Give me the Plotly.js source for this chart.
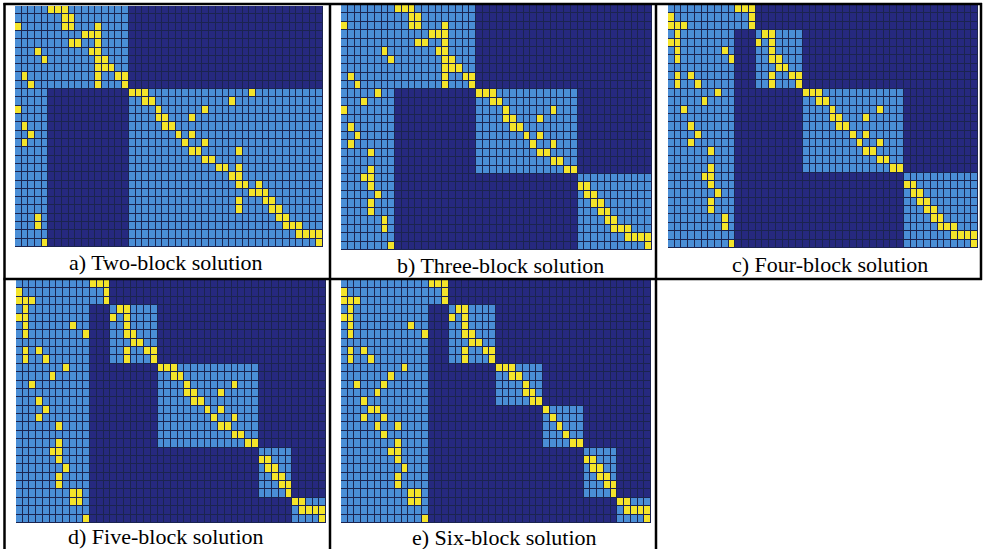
<!DOCTYPE html>
<html><head><meta charset="utf-8">
<script src="https://cdn.plot.ly/plotly-3.0.1.min.js"></script>
<style>html,body{margin:0;padding:0;background:#fff;}#chart{width:983px;height:549px;}</style>
</head><body><div id="chart"></div>
<script>
const N_ROWS = 29, N_COLS = 46;
const panelLabels = ["a) Two-block solution","b) Three-block solution","c) Four-block solution","d) Five-block solution","e) Six-block solution"];

// shared (overlap) columns on the left, then block boundaries (rows / cols)
const stripA = 5,  rowBreaksA = [0,10,29], colBreaksA = [5,17,46];
const stripB = 8,  rowBreaksB = [0,10,20,29], colBreaksB = [8,20,35,46];
const stripC = 10, rowBreaksC = [0,3,10,20,29], colBreaksC = [10,13,20,35,46];
const stripD = 11, rowBreaksD = [0,3,10,20,26,29], colBreaksD = [11,14,21,36,41,46];
const stripE = 13, rowBreaksE = [0,3,10,15,20,26,29], colBreaksE = [13,16,23,30,36,41,46];

// yellow (non-zero) cells: column indices for each row
const yellowA = [[5,6,7],[7,8],[0,7,8,12],[10,11,12],[8,9,12],[3,11,12],[4,12,13],[12,13,14],[1,12,15,16],[2,12,16],
 [17,18,19,35],[19,20,32],[0,21,28],[21,22,26],[1,22,23],[2,24,26],[1,25,28],[26,27,33],[28,29],[30,31,33],
 [32,33],[33,34,36],[35,36,37],[33,37,38],[33,38,39],[3,39,40],[3,40,41,42],[42,43,44,45],[4,45]];
const yellowB = [[8,9,10],[10,11],[0,10,11,15],[13,14,15],[11,12,15],[6,14,15],[7,15,16],[15,16,17],[1,15,18,19],[2,15,19],
 [5,20,21,22],[3,22,23],[0,24,31],[24,25,29],[1,25,26],[2,27,29],[1,28,31],[4,29,30],[31,32],[4,33,34],
 [3,4],[4,35,36],[5,36,37],[4,37,38],[4,38,39],[6,39,40],[6,40,41,42],[42,43,44,45],[7,45]];
const yellowC = [[10,11,12],[0,12],[0,1,2,12],[1,14,15],[0,1,13,15],[1,8,15],[1,9,15,16],[16,17],[1,3,15,18,19],[1,4,15,19],
 [7,20,21,22],[5,22,23],[2,24,31],[24,25,29],[3,25,26],[4,27,29],[3,28,31],[6,29,30],[31,32],[6,33,34],
 [5,6],[6,35,36],[7,36,37],[6,37,38],[6,38,39],[8,39,40],[8,40,41,42],[42,43,44,45],[9,45]];
const yellowD = [[11,12,13],[0,13],[0,1,2,13],[1,15,16],[0,1,14,16],[1,8,16],[1,10,16,17],[17,18],[1,3,16,19,20],[1,4,16,20],
 [7,21,22,23],[5,23,24],[2,25,32],[25,26,30],[3,26,27],[4,28,30],[3,29,32],[6,30,31],[32,33],[6,34,35],
 [5,6],[6,36,37],[7,37,38],[6,38,39],[6,39,40],[8,9,40],[8,9,41,42],[42,43,44,45],[10,45]];
const yellowE = [[13,14,15],[0,15],[0,1,2,15],[1,17,18],[0,1,16,18],[1,10,18],[1,12,18,19],[19,20],[1,3,18,21,22],[1,4,18,22],
 [9,23,24,25],[7,25,26],[2,6,27],[5,27,28],[3,28,29],[4,5,30],[3,6,31],[5,8,32],[6,33],[8,34,35],
 [7,8],[8,36,37],[9,37,38],[8,38,39],[8,39,40],[10,11,40],[10,11,41,42],[42,43,44,45],[12,45]];

function blockOf(i, breaks) {
  for (let k = 0; k < breaks.length - 1; k++) if (i >= breaks[k] && i < breaks[k+1]) return k;
  return -1;
}
function buildMatrix(strip, rb, cb, yellow) {
  const z = [];
  for (let r = 0; r < N_ROWS; r++) {
    const row = [];
    const br = blockOf(r, rb);
    for (let c = 0; c < N_COLS; c++) {
      let v = 0;
      if (c < strip) v = 1;
      else if (blockOf(c, cb) === br) v = 1;
      row.push(v);
    }
    yellow[r].forEach(c => { row[c] = 2; });
    z.push(row);
  }
  return z;
}

const mats = [
  buildMatrix(stripA, rowBreaksA, colBreaksA, yellowA),
  buildMatrix(stripB, rowBreaksB, colBreaksB, yellowB),
  buildMatrix(stripC, rowBreaksC, colBreaksC, yellowC),
  buildMatrix(stripD, rowBreaksD, colBreaksD, yellowD),
  buildMatrix(stripE, rowBreaksE, colBreaksE, yellowE)
];

const W = 983, H = 549;
// pixel boxes of the five images [x0, x1, y0, y1]
const boxes = [[15,323,6,247],[341,652,5,250],[668,978,5,248],[16,326,280,523],[341,651,280,523]];
const labelPos = [[166,262],[500,265],[830,264],[166,536],[505,537]];

const DARK = '#26297f', LIGHT = '#4a8ed6', YEL = '#f4e42a';
const cs = [[0,DARK],[0.333,DARK],[0.333,LIGHT],[0.667,LIGHT],[0.667,YEL],[1,YEL]];
const xs = Array.from({length:N_COLS},(_,i)=>i);
const ys = Array.from({length:N_ROWS},(_,i)=>i);

const data = [];
const layout = {
  width: W, height: H, margin:{l:0,r:0,t:0,b:0},
  paper_bgcolor:'#ffffff', plot_bgcolor:'#1b2450', showlegend:false,
  shapes: [], annotations: []
};
mats.forEach((z, i) => {
  const n = i === 0 ? '' : String(i+1);
  data.push({type:'heatmap', z:z, x:xs, y:ys, xaxis:'x'+n, yaxis:'y'+n,
    colorscale:cs, zmin:0, zmax:2, showscale:false, xgap:1, ygap:1, hoverinfo:'skip'});
  const b = boxes[i];
  const ax = {domain:[b[0]/W, b[1]/W], range:[-0.5, N_COLS-0.5], visible:false, fixedrange:true};
  const ay = {domain:[1-b[3]/H, 1-b[2]/H], range:[N_ROWS-0.5, -0.5], visible:false, fixedrange:true};
  if (i > 0) { ax.anchor = 'y'+n; ay.anchor = 'x'+n; }
  layout['xaxis'+n] = ax; layout['yaxis'+n] = ay;
  layout.annotations.push({xref:'paper', yref:'paper', x:labelPos[i][0]/W, y:1-labelPos[i][1]/H,
    xanchor:'center', yanchor:'middle', showarrow:false, text:panelLabels[i],
    font:{family:'Liberation Serif, Times New Roman, serif', size:22, color:'#000'}});
});
// table borders
function hline(y, x0, x1){ layout.shapes.push({type:'line', xref:'paper', yref:'paper', x0:x0/W, x1:x1/W, y0:1-y/H, y1:1-y/H, line:{color:'#000', width:2.5}}); }
function vline(x, y0, y1){ layout.shapes.push({type:'line', xref:'paper', yref:'paper', x0:x/W, x1:x/W, y0:1-y0/H, y1:1-y1/H, line:{color:'#000', width:2.5}}); }
hline(4, 3.5, 982);
hline(279, 3.5, 982);
vline(4.5, 3, 549);
vline(330, 3, 549);
vline(656, 3, 549);
vline(981, 3, 280);

Plotly.newPlot('chart', data, layout, {staticPlot:true, displayModeBar:false});
</script></body></html>
